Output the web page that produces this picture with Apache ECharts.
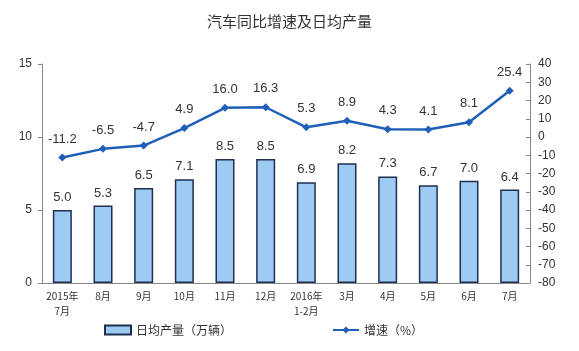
<!DOCTYPE html>
<html>
<head>
<meta charset="utf-8">
<script src="https://cdn.jsdelivr.net/npm/echarts@6/dist/echarts.min.js"></script>
<style>
    html, body { margin: 0; padding: 0; background: #fff; }
    #chart { width: 579px; height: 351px; }
</style>
</head>
<body>
<div id="chart"></div>
<script>
var months = ['2015年\n7月', '8月', '9月', '10月', '11月', '12月', '2016年\n1-2月', '3月', '4月', '5月', '6月', '7月'];
var dailyOutput = [5.0, 5.3, 6.5, 7.1, 8.5, 8.5, 6.9, 8.2, 7.3, 6.7, 7.0, 6.4];
var growth = [-11.2, -6.5, -4.7, 4.9, 16.0, 16.3, 5.3, 8.9, 4.3, 4.1, 8.1, 25.4];

var numFont = 'Liberation Sans, Arial, sans-serif';
var cjkFont = 'Noto Sans CJK SC, sans-serif';

var chart = echarts.init(document.getElementById('chart'));

var option = {
    animation: false,
    backgroundColor: '#fff',
    title: {
        text: '汽车同比增速及日均产量',
        left: 'center',
        top: 9,
        textStyle: { fontFamily: cjkFont, fontSize: 15, fontWeight: 'normal', color: '#333' }
    },
    grid: { left: 42, right: 49, top: 64, bottom: 68 },
    legend: {
        left: 99,
        top: 319,
        itemGap: 100,
        itemWidth: 26,
        itemHeight: 9,
        textStyle: { fontFamily: cjkFont, fontSize: 12, color: '#333' },
        data: [{ name: '日均产量（万辆）', icon: 'rect' }, { name: '增速（%）' }]
    },
    xAxis: {
        type: 'category',
        data: months,
        axisLine: { lineStyle: { color: '#888' } },
        axisTick: { inside: true, length: 4, lineStyle: { color: '#888' } },
        axisLabel: { fontFamily: cjkFont, fontSize: 10, color: '#333', lineHeight: 15, margin: 6, interval: 0 }
    },
    yAxis: [
        {
            type: 'value',
            min: 0, max: 15, interval: 5,
            splitLine: { show: false },
            axisLine: { show: true, lineStyle: { color: '#888' } },
            axisTick: { show: true, length: 4, lineStyle: { color: '#888' } },
            axisLabel: { fontFamily: numFont, fontSize: 12, color: '#333', margin: 10 }
        },
        {
            type: 'value',
            min: -80, max: 40, interval: 10,
            splitLine: { show: false },
            axisLine: { show: true, lineStyle: { color: '#888' } },
            axisTick: { show: true, inside: true, length: 4, lineStyle: { color: '#888' } },
            axisLabel: { fontFamily: numFont, fontSize: 12, color: '#333', margin: 8 }
        }
    ],
    series: [
        {
            name: '日均产量（万辆）',
            type: 'bar',
            data: dailyOutput,
            barWidth: 19,
            itemStyle: { color: '#9dcbf4', borderColor: '#1f2f4f', borderWidth: 1.5 },
            label: {
                show: true, position: 'top', distance: 6,
                formatter: function (p) { return p.value.toFixed(1); },
                fontFamily: numFont, fontSize: 13, color: '#333'
            }
        },
        {
            name: '增速（%）',
            type: 'line',
            yAxisIndex: 1,
            data: growth,
            symbol: 'diamond',
            symbolSize: 8,
            lineStyle: { color: '#1f5fb8', width: 2.5 },
            itemStyle: { color: '#1f5fb8' },
            label: {
                show: true, position: 'top', distance: 8,
                formatter: function (p) { return p.value.toFixed(1); },
                fontFamily: numFont, fontSize: 13, color: '#333'
            }
        }
    ]
};

chart.setOption(option);
</script>
</body>
</html>
